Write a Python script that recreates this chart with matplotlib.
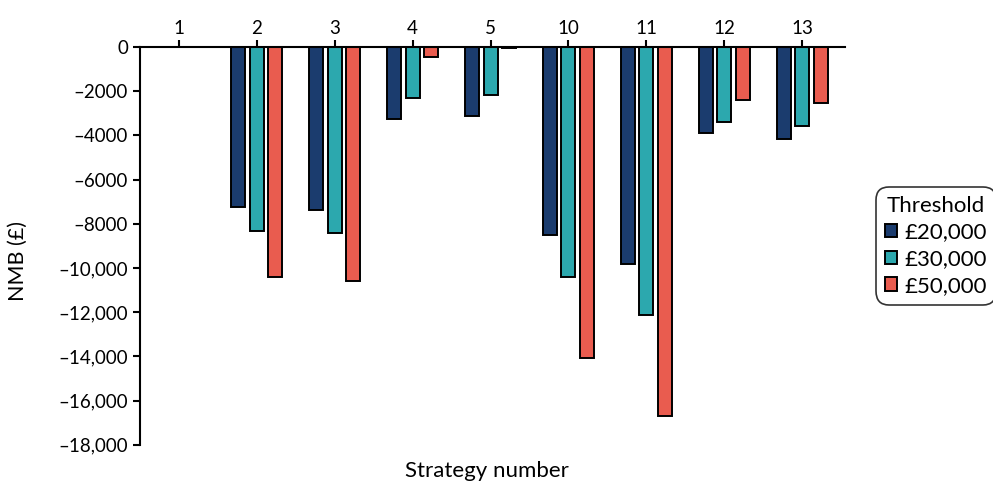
import matplotlib.pyplot as plt
import numpy as np

plt.rcParams['font.family'] = ['Lato', 'DejaVu Sans']

strategies = ['1', '2', '3', '4', '5', '10', '11', '12', '13']
nmb_20k = [0, -7250, -7380, -3270, -3120, -8490, -9820, -3880, -4180]
nmb_30k = [0, -8330, -8420, -2320, -2190, -10390, -12140, -3380, -3600]
nmb_50k = [0, -10390, -10590, -450, -30, -14090, -16700, -2410, -2560]
series_labels = ['£20,000', '£30,000', '£50,000']
colors = ['#1b3c6e', '#2ca8ae', '#e95c4f']

yticks = [0, -2000, -4000, -6000, -8000, -10000, -12000, -14000, -16000, -18000]
ytick_labels = ['0', '–2000', '–4000', '–6000', '–8000', '–10,000', '–12,000',
                '–14,000', '–16,000', '–18,000']

fig = plt.figure(figsize=(9.93, 4.83), dpi=100)
ax = fig.add_axes([0.141, 0.079, 0.71, 0.824])

x = np.arange(len(strategies))
w = 0.18
step = 0.237
for i, vals in enumerate([nmb_20k, nmb_30k, nmb_50k]):
    ax.bar(x + (i - 1) * step, vals, w, color=colors[i], edgecolor='black',
           linewidth=1.4, label=series_labels[i])

ax.set_ylim(-18000, 0)
ax.set_xlim(-0.5, len(strategies) - 0.45)
ax.set_yticks(yticks)
ax.set_yticklabels(ytick_labels)
ax.set_xticks(x)
ax.set_xticklabels(strategies)
ax.xaxis.tick_top()
ax.tick_params(axis='both', labelsize=13.5, width=1.5, length=5, color='black')
ax.tick_params(axis='x', pad=2)
for s in ['bottom', 'right']:
    ax.spines[s].set_visible(False)
for s in ['top', 'left']:
    ax.spines[s].set_linewidth(1.5)

fig.text(0.018, 0.46, 'NMB (£)', rotation=90, ha='center', va='center', fontsize=15.5)
fig.text(0.49, 0.012, 'Strategy number', ha='center', fontsize=16)

leg = ax.legend(title='Threshold', loc='center left', bbox_to_anchor=(1.05, 0.5),
                fontsize=16, title_fontsize=16, frameon=True, fancybox=True,
                handlelength=0.55, handleheight=0.55, handletextpad=0.35,
                borderpad=0.2, borderaxespad=0, labelspacing=0.3, edgecolor='black')
leg.get_frame().set_linewidth(1.2)
leg.get_frame().set_boxstyle('round', pad=0.2, rounding_size=0.6)

fig.savefig('out.png', dpi=100)
